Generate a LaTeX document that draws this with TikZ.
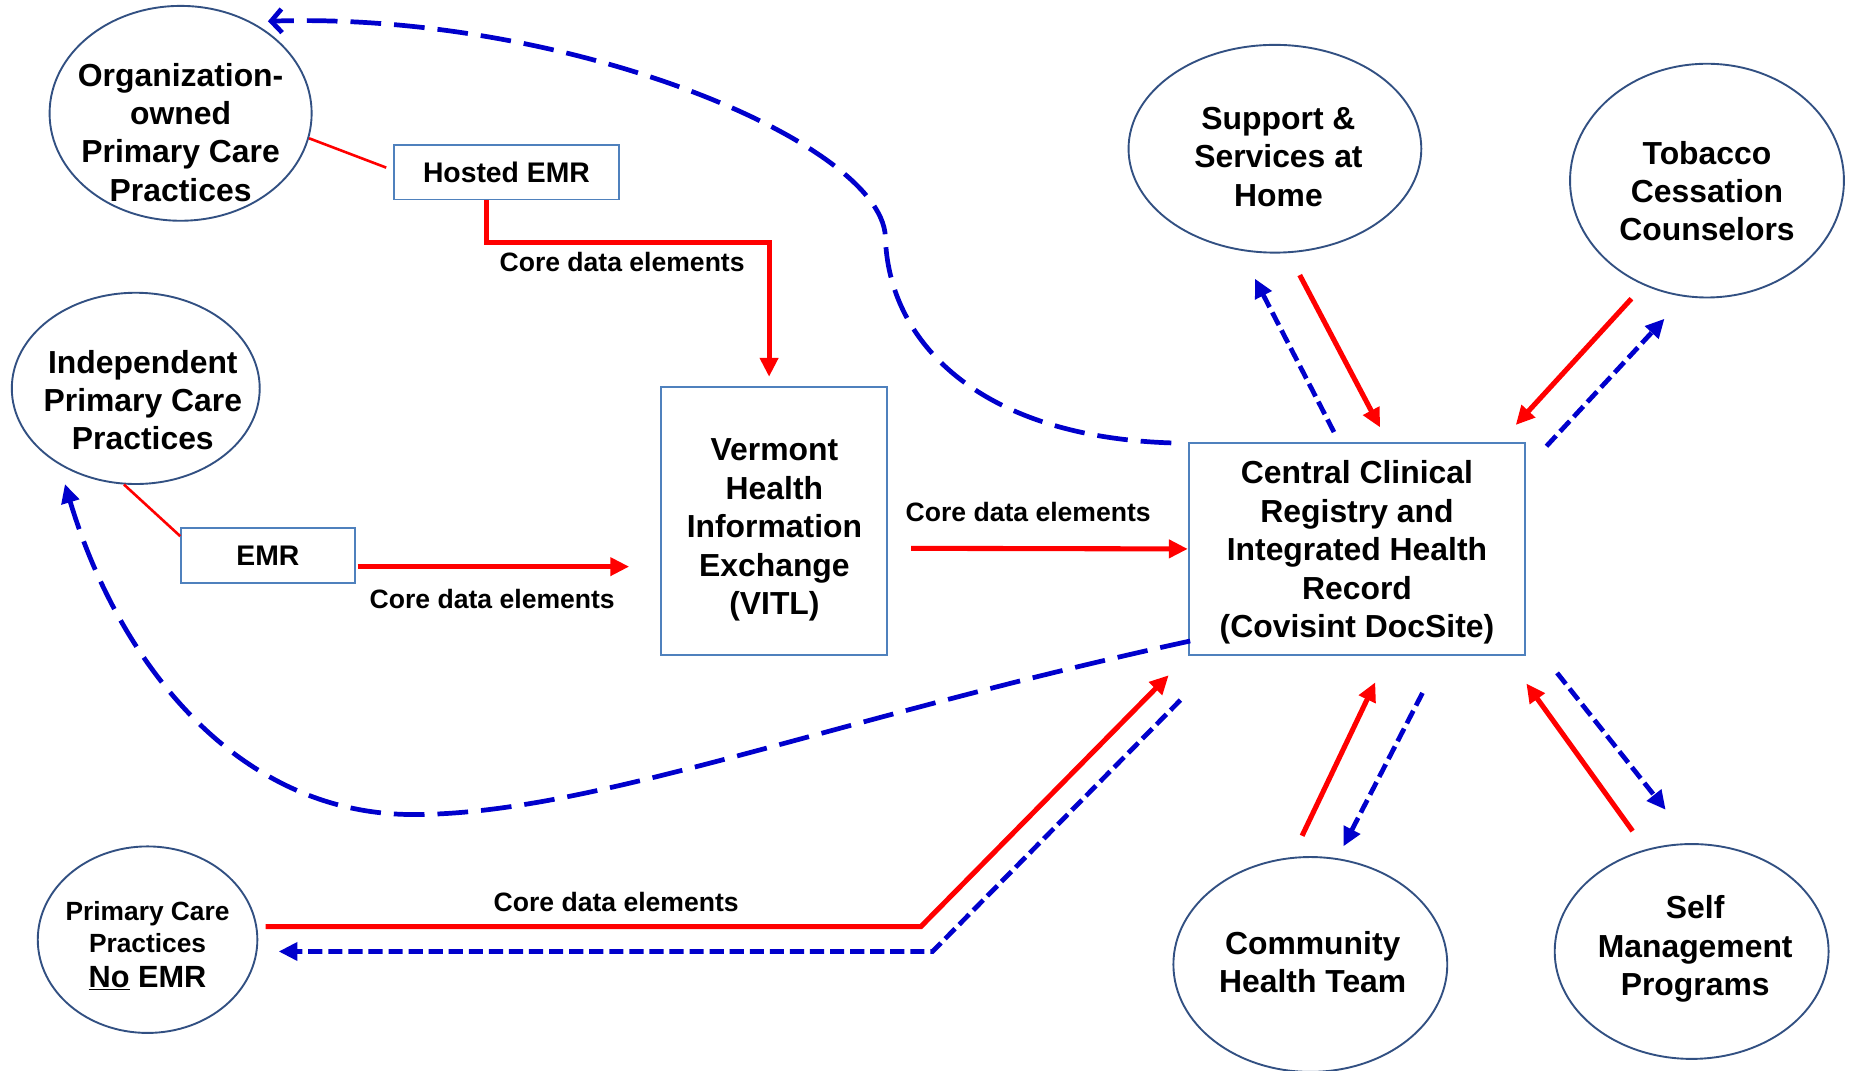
\documentclass[tikz,border=0pt]{standalone}
\usepackage{fontspec}
\setmainfont{Liberation Sans}
\usetikzlibrary{shapes.geometric,arrows.meta}
\definecolor{ellb}{RGB}{50,80,130}
\definecolor{boxb}{RGB}{79,129,189}
\definecolor{dblue}{RGB}{0,0,204}
\definecolor{vred}{RGB}{255,0,0}
\begin{document}
\begin{tikzpicture}[x=1pt,y=-1pt,
  ell/.style={draw=ellb,line width=1.6pt,ellipse,inner sep=0pt},
  boxn/.style={draw=boxb,line width=1.6pt,rectangle,inner sep=0pt,align=center,font=\bfseries\fontsize{27}{32.5}\selectfont},
  txt/.style={font=\bfseries\fontsize{27}{32.5}\selectfont,align=center,inner sep=0pt},
  lbl/.style={font=\bfseries\fontsize{22.5}{27}\selectfont,inner sep=0pt},
  redthin/.style={draw=vred,line width=2.2pt},
  redarrow/.style={draw=vred,line width=4.3pt,-{Triangle[length=16pt,width=15pt]}},
  bluedash/.style={draw=dblue,line width=4pt,dash pattern=on 12pt off 5pt,-{Triangle[length=16pt,width=15pt]}},
  bluelong/.style={draw=dblue,line width=4pt,dash pattern=on 26pt off 11pt}
]
\useasboundingbox[fill=white] (0,0) rectangle (1568,907);

% ellipses
\node[ell,minimum width=222pt,minimum height=182pt] (org) at (153,96) {};
\node[txt] (orgT) at (153,112) {Organization-\\owned\\Primary Care\\Practices};
\node[ell,minimum width=210pt,minimum height=162pt] (indep) at (115,329) {};
\node[txt] (indepT) at (121,339) {Independent\\Primary Care\\Practices};
\node[ell,minimum width=248pt,minimum height=176pt] (supp) at (1080,126) {};
\node[txt] (suppT) at (1083,133) {Support \&\\Services at\\Home};
\node[ell,minimum width=232pt,minimum height=198pt] (tob) at (1446,153) {};
\node[txt] (tobT) at (1446,162) {Tobacco\\Cessation\\Counselors};
\node[ell,minimum width=232pt,minimum height=182pt] (comm) at (1110,817) {};
\node[txt] (commT) at (1112,815) {Community\\Health Team};
\node[ell,minimum width=232pt,minimum height=182pt] (selfm) at (1433,806) {};
\node[txt] (selfT) at (1436,804) {Self\\Management\\Programs};
\node[ell,minimum width=186pt,minimum height=158pt] (noemr) at (125,796) {};
\node[font=\bfseries\fontsize{22.3}{27}\selectfont,align=center,inner sep=0pt] (noemrT) at (125,801)
  {Primary Care\\Practices\\[3pt]{\fontsize{26}{31}\selectfont\underline{No} EMR}};

% boxes
\node[boxn,minimum width=190pt,minimum height=46pt,font=\bfseries\fontsize{24}{29}\selectfont] (hosted) at (429,146) {Hosted EMR};
\node[boxn,minimum width=147pt,minimum height=47pt,font=\bfseries\fontsize{24}{29}\selectfont] (emr) at (227,470.5) {EMR};
\node[boxn,minimum width=191pt,minimum height=227pt] (vitl) at (655.5,441.5) {};
\node[txt] (vitlT) at (656,449) {Vermont\\Health\\Information\\Exchange\\(VITL)};
\node[boxn,minimum width=285pt,minimum height=180pt] (central) at (1149.5,465) {};
\node[txt] (centralT) at (1149.5,468) {Central Clinical\\Registry and\\Integrated Health\\Record\\(Covisint DocSite)};

% labels
\node[lbl] (l1) at (527,222) {Core data elements};
\node[lbl] (l2) at (417,507) {Core data elements};
\node[lbl] (l3) at (871,434) {Core data elements};
\node[lbl] (l4) at (522,764) {Core data elements};

% free ends
\coordinate (emrA) at (303,480);
\coordinate (emrB) at (533,480);
\coordinate (nA) at (225,785);
\coordinate (nB) at (780,785);
\coordinate (nC) at (990,572);
\coordinate (bA) at (1000,593);
\coordinate (bB) at (790,806);
\coordinate (bC) at (236,806);
\coordinate (s1) at (1130,366); \coordinate (s2) at (1063,236);
\coordinate (s3) at (1101,233); \coordinate (s4) at (1169,362);
\coordinate (t1) at (1382,253); \coordinate (t2) at (1284,360);
\coordinate (t3) at (1310,378); \coordinate (t4) at (1410,270);
\coordinate (c1) at (1103,708); \coordinate (c2) at (1165,578);
\coordinate (c3) at (1205,587); \coordinate (c4) at (1138,717);
\coordinate (m1) at (1383,704); \coordinate (m2) at (1293,579);
\coordinate (m3) at (1319,570); \coordinate (m4) at (1411,686);
\coordinate (topEnd) at (227,18);
\coordinate (indEnd) at (55,410);

% thin red links
\draw[redthin] (org.-11) -- ([xshift=-6pt,yshift=4pt]hosted.west);
\draw[redthin] (indep.-97) -- ([yshift=-8pt]emr.north west);

% red core data arrows
\draw[redarrow] ([xshift=-17pt]hosted.south) -- ++(0,36) -| ([xshift=-4pt,yshift=8pt]vitl.north);
\draw[redarrow] (emrA) -- (emrB);
\draw[redarrow] ([xshift=20pt,yshift=-23pt]vitl.east) -- (central.west);
\draw[redarrow] (nA) -- (nB) -- (nC);
\draw[bluedash] (bA) -- (bB) -- (bC);

% long dashed curves
\draw[bluelong,-{Straight Barb[length=9pt,width=20pt,line width=4pt]}] ([xshift=-14pt,yshift=-1pt]central.north west)
  .. controls (830,370) and (752,290) .. (750,200)
  .. controls (745,120) and (480,10) .. (topEnd);
\draw[bluelong,-{Triangle[length=16pt,width=15pt]}] ([xshift=2pt,yshift=-78pt]central.west)
  .. controls (700,610) and (500,690) .. (350,690)
  .. controls (200,690) and (100,560) .. (indEnd);

% satellites
\draw[bluedash] (s1) -- (s2);
\draw[redarrow] (s3) -- (s4);
\draw[redarrow] (t1) -- (t2);
\draw[bluedash] (t3) -- (t4);
\draw[redarrow] (c1) -- (c2);
\draw[bluedash] (c3) -- (c4);
\draw[redarrow] (m1) -- (m2);
\draw[bluedash] (m3) -- (m4);
\end{tikzpicture}
\end{document}
